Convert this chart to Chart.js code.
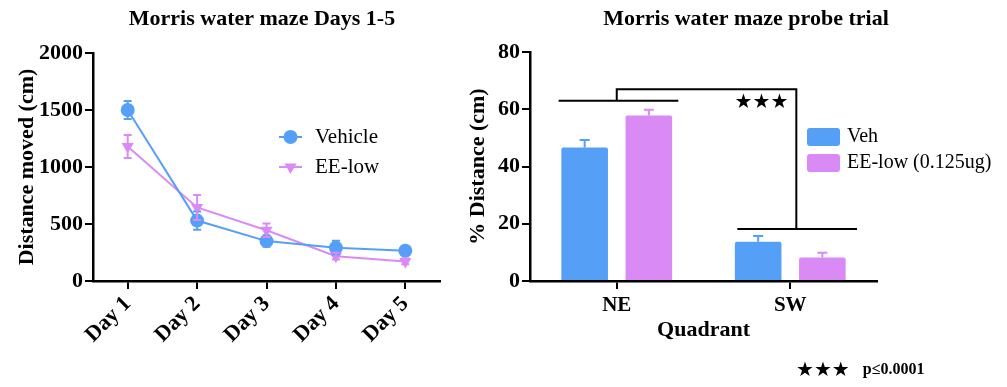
<!DOCTYPE html>
<html>
<head>
<meta charset="utf-8">
<title>Morris water maze</title>
<script src="https://cdn.jsdelivr.net/npm/chart.js@4.4.1/dist/chart.umd.min.js"></script>
<style>
  body { margin: 0; background: #fff; }
  .panel { position: absolute; top: 0; height: 387px; }
  #left { left: 0; width: 460px; }
  #right { left: 460px; width: 547px; }
  .footnote { position: absolute; left: 796px; top: 357px; white-space: nowrap; }
  .footnote .stars { font: 20px 'DejaVu Sans'; vertical-align: middle; }
  .footnote .p { font: bold 16px 'Liberation Serif'; margin-left: 13px; vertical-align: middle; }
</style>
</head>
<body>
<div class="panel" id="left"><canvas id="daysChart"></canvas></div>
<div class="panel" id="right"><canvas id="probeChart"></canvas></div>
<div class="footnote"><span class="stars">★★★</span><span class="p">p≤0.0001</span></div>

<script>
// Acquisition days 1-5: distance moved (cm), mean and SEM
const days = ['Day 1', 'Day 2', 'Day 3', 'Day 4', 'Day 5'];
const vehicleDist = [1500, 530, 350, 292, 266];
const vehicleSem = [78, 80, 50, 60, 40];
const eeLowDist = [1180, 645, 445, 218, 172];
const eeLowSem = [100, 110, 60, 30, 25];

// Probe trial: % distance per quadrant, mean and SEM
const quadrants = ['NE', 'SW'];
const vehPct = [46.6, 13.7];
const vehPctSem = [2.7, 2.0];
const eePct = [57.8, 8.2];
const eePctSem = [2.0, 1.7];

// significance bracket: [x from, x to, y] in quadrant index / % units
const bracketNE = [-0.335, 0.355, 63];
const bracketSW = [0.695, 1.385, 18.2];
const bracketTop = 67;
const bracketDrop = 1.035;

const BLUE = '#559ff7';
const PINK = '#da8af4';
const SERIF = "'Liberation Serif', 'Times New Roman', serif";
const BOLD22 = { size: 22, weight: 'bold' };

Chart.defaults.font.family = SERIF;
Chart.defaults.color = '#000';

const axisStyle = {
  grid: { drawOnChartArea: false, drawTicks: true, tickLength: 8, color: '#000', lineWidth: 2 },
  border: { display: true, color: '#000', width: 2.5 }
};

// plain integers on the axis, no thousands separator
const plainTick = v => String(v);

// panel heading, centred on a given x
const panelTitle = {
  id: 'panelTitle',
  afterDraw(chart, args, opts) {
    const ctx = chart.ctx;
    ctx.save();
    ctx.fillStyle = '#000';
    ctx.font = 'bold 22px ' + SERIF;
    ctx.textAlign = 'center';
    ctx.textBaseline = 'middle';
    ctx.fillText(opts.text, opts.x, opts.y);
    ctx.restore();
  }
};

// vertical SEM whiskers with caps; upOnly for bar charts
const errorBars = {
  id: 'errorBars',
  afterDatasetsDraw(chart, args, opts) {
    const ctx = chart.ctx;
    const y = chart.scales.y;
    chart.data.datasets.forEach((ds, i) => {
      if (!ds.errors) return;
      const meta = chart.getDatasetMeta(i);
      ctx.save();
      ctx.strokeStyle = ds.errorColor || ds.borderColor;
      ctx.lineWidth = 2;
      meta.data.forEach((el, j) => {
        const v = ds.data[j], e = ds.errors[j];
        const top = y.getPixelForValue(v + e);
        const bottom = opts.upOnly ? y.getPixelForValue(v) : y.getPixelForValue(v - e);
        const half = opts.cap / 2;
        ctx.beginPath();
        ctx.moveTo(el.x, bottom);
        ctx.lineTo(el.x, top);
        ctx.moveTo(el.x - half, top);
        ctx.lineTo(el.x + half, top);
        if (!opts.upOnly) {
          ctx.moveTo(el.x - half, bottom);
          ctx.lineTo(el.x + half, bottom);
        }
        ctx.stroke();
      });
      ctx.restore();
    });
  }
};

// legend with a line segment through the marker
const lineLegend = {
  id: 'lineLegend',
  afterDraw(chart, args, opts) {
    const ctx = chart.ctx;
    chart.data.datasets.forEach((ds, i) => {
      const cy = opts.top + i * opts.spacing;
      ctx.save();
      ctx.strokeStyle = ds.borderColor;
      ctx.fillStyle = ds.pointBackgroundColor;
      ctx.lineWidth = 2;
      ctx.beginPath();
      ctx.moveTo(opts.left, cy);
      ctx.lineTo(opts.left + opts.width, cy);
      ctx.stroke();
      Chart.helpers.drawPoint(ctx, {
        pointStyle: ds.pointStyle, rotation: ds.pointRotation || 0,
        radius: ds.pointRadius, borderWidth: 0
      }, opts.left + opts.width / 2, cy);
      ctx.fillStyle = '#000';
      ctx.font = opts.font;
      ctx.textBaseline = 'middle';
      ctx.fillText(ds.label, opts.left + opts.width + opts.gap, cy);
      ctx.restore();
    });
  }
};

// legend with rounded colour boxes
const boxLegend = {
  id: 'boxLegend',
  afterDraw(chart, args, opts) {
    const ctx = chart.ctx;
    chart.data.datasets.forEach((ds, i) => {
      const cy = opts.top + i * opts.spacing;
      ctx.save();
      ctx.fillStyle = ds.backgroundColor;
      ctx.beginPath();
      ctx.roundRect(opts.left, cy - opts.boxHeight / 2, opts.boxWidth, opts.boxHeight, 3);
      ctx.fill();
      ctx.fillStyle = '#000';
      ctx.font = opts.font;
      ctx.textBaseline = 'middle';
      ctx.fillText(ds.label, opts.left + opts.boxWidth + opts.gap, cy);
      ctx.restore();
    });
  }
};

// NE vs SW significance bracket and stars
const sigBracket = {
  id: 'sigBracket',
  afterDraw(chart) {
    const ctx = chart.ctx;
    const x = chart.scales.x, y = chart.scales.y;
    const px = v => x.getPixelForValue(v);
    const py = v => y.getPixelForValue(v);
    ctx.save();
    ctx.strokeStyle = '#000';
    ctx.lineWidth = 2;
    ctx.beginPath();
    ctx.moveTo(px(bracketNE[0]), py(bracketNE[2]));
    ctx.lineTo(px(bracketNE[1]), py(bracketNE[2]));
    ctx.moveTo(px(0), py(bracketNE[2]));
    ctx.lineTo(px(0), py(bracketTop));
    ctx.lineTo(px(bracketDrop), py(bracketTop));
    ctx.lineTo(px(bracketDrop), py(bracketSW[2]));
    ctx.moveTo(px(bracketSW[0]), py(bracketSW[2]));
    ctx.lineTo(px(bracketSW[1]), py(bracketSW[2]));
    ctx.stroke();
    ctx.fillStyle = '#000';
    ctx.font = "20px 'DejaVu Sans'";
    ctx.textAlign = 'right';
    ctx.textBaseline = 'middle';
    ctx.fillText('★★★', px(bracketDrop) - 8, py(62.2));
    ctx.restore();
  }
};

new Chart(document.getElementById('daysChart'), {
  type: 'line',
  data: {
    labels: days,
    datasets: [
      {
        label: 'Vehicle', data: vehicleDist, errors: vehicleSem,
        borderColor: BLUE, backgroundColor: BLUE, pointBackgroundColor: BLUE,
        borderWidth: 2, pointStyle: 'circle', pointRadius: 7, pointBorderWidth: 0
      },
      {
        label: 'EE-low', data: eeLowDist, errors: eeLowSem,
        borderColor: PINK, backgroundColor: PINK, pointBackgroundColor: PINK,
        borderWidth: 2, pointStyle: 'triangle', pointRotation: 180, pointRadius: 7, pointBorderWidth: 0
      }
    ]
  },
  options: {
    responsive: true, maintainAspectRatio: false, animation: false,
    layout: { padding: { left: 0, right: 20, top: 53, bottom: 0 } },
    plugins: {
      legend: { display: false },
      tooltip: { enabled: false },
      panelTitle: { text: 'Morris water maze Days 1-5', x: 262, y: 19 },
      errorBars: { cap: 8, upOnly: false },
      lineLegend: { left: 279, width: 23, gap: 13, top: 137, spacing: 30, font: "21px " + SERIF }
    },
    scales: {
      x: {
        ...axisStyle, offset: true,
        ticks: { minRotation: 45, maxRotation: 45, padding: 2, font: BOLD22 },
        afterFit(s) { s.height = 106; }
      },
      y: {
        ...axisStyle, min: 0, max: 2000,
        ticks: { stepSize: 500, padding: 2, font: BOLD22, callback: plainTick },
        title: { display: true, text: 'Distance moved (cm)', font: BOLD22, padding: { top: 14 } },
        afterFit(s) { s.width = 93; }
      }
    }
  },
  plugins: [errorBars, lineLegend, panelTitle]
});

new Chart(document.getElementById('probeChart'), {
  type: 'bar',
  data: {
    labels: quadrants,
    datasets: [
      { label: 'Veh', data: vehPct, errors: vehPctSem, backgroundColor: BLUE, errorColor: BLUE, borderRadius: 2 },
      { label: 'EE-low (0.125ug)', data: eePct, errors: eePctSem, backgroundColor: PINK, errorColor: PINK, borderRadius: 2 }
    ]
  },
  options: {
    responsive: true, maintainAspectRatio: false, animation: false,
    layout: { padding: { left: 0, right: 130, top: 52, bottom: 0 } },
    datasets: { bar: { categoryPercentage: 0.74, barPercentage: 0.726 } },
    plugins: {
      legend: { display: false },
      tooltip: { enabled: false },
      panelTitle: { text: 'Morris water maze probe trial', x: 286, y: 19 },
      errorBars: { cap: 10, upOnly: true },
      boxLegend: { left: 347, top: 137, spacing: 26, boxWidth: 33, boxHeight: 18, gap: 7, font: "20px " + SERIF }
    },
    scales: {
      x: {
        ...axisStyle,
        grid: { ...axisStyle.grid, offset: false },
        ticks: { padding: 4, font: { size: 21, weight: 'bold' } },
        title: { display: true, text: 'Quadrant', font: BOLD22, padding: { bottom: 43 } },
        afterFit(s) { s.height = 106; }
      },
      y: {
        ...axisStyle, min: 0, max: 80,
        ticks: { stepSize: 20, padding: 2, font: BOLD22 },
        title: { display: true, text: '% Distance (cm)', font: BOLD22, padding: { top: 5 } },
        afterFit(s) { s.width = 70; }
      }
    }
  },
  plugins: [errorBars, boxLegend, sigBracket, panelTitle]
});
</script>
</body>
</html>
